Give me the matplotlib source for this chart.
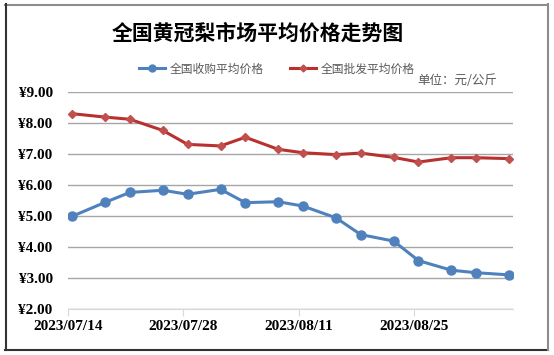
import matplotlib
matplotlib.use("Agg")
import matplotlib.pyplot as plt
import matplotlib.dates as mdates
from matplotlib.lines import Line2D
import datetime as dt

dates = ["2023-07-14", "2023-07-18", "2023-07-21", "2023-07-25", "2023-07-28",
         "2023-08-01", "2023-08-04", "2023-08-08", "2023-08-11", "2023-08-15",
         "2023-08-18", "2023-08-22", "2023-08-25", "2023-08-29", "2023-09-01",
         "2023-09-05"]
purchase = [5.00, 5.45, 5.77, 5.84, 5.71, 5.87, 5.44, 5.47, 5.33, 4.95,
            4.41, 4.20, 3.57, 3.26, 3.18, 3.11]
wholesale = [8.31, 8.20, 8.13, 7.77, 7.32, 7.27, 7.55, 7.16, 7.05, 6.99,
             7.04, 6.90, 6.75, 6.89, 6.89, 6.86]
series_names = ["全国收购平均价格", "全国批发平均价格"]
tick_dates = ["2023-07-14", "2023-07-28", "2023-08-11", "2023-08-25"]
title = "全国黄冠梨市场平均价格走势图"
unit = "单位：元/公斤"

W, H = 554, 355
fig = plt.figure(figsize=(W / 100, H / 100), dpi=100)
fig.patch.set_facecolor("white")

cjk = ["Noto Sans CJK SC", "DejaVu Sans"]
serif = ["Liberation Serif", "DejaVu Serif"]

ax = fig.add_axes([68 / W, 1 - 309.3 / H, (513.3 - 68) / W, (309.3 - 92.3) / H])

x = [dt.datetime.strptime(d, "%Y-%m-%d") + dt.timedelta(hours=12) for d in dates]
blue = "#4F81BD"
red = "#B8312F"
ax.plot(x, purchase, color=blue, lw=2.2, marker="o", ms=6.5, mfc=blue, mec=blue, zorder=3)
ax.plot(x, wholesale, color=red, lw=2.2, marker="D", ms=4.5, mfc="#C0504D", mec="#C0504D", zorder=3)

ax.set_xlim(dt.datetime(2023, 7, 14), dt.datetime(2023, 9, 6))
ax.set_ylim(2, 9)
ax.set_yticks([2, 3, 4, 5, 6, 7, 8, 9])
ax.set_yticklabels(["¥%.2f" % v for v in [2, 3, 4, 5, 6, 7, 8, 9]],
                   fontfamily=serif, fontweight="bold", fontsize=11)
td = [dt.datetime.strptime(d, "%Y-%m-%d") for d in tick_dates]
ax.set_xticks(td)
ax.set_xticklabels([d.replace("-", "/") for d in tick_dates],
                   fontfamily=serif, fontweight="bold", fontsize=11)

ax.grid(axis="y", color="#A6A6A6", lw=1.0)
ax.set_axisbelow(True)
for s in ["left", "right", "top"]:
    ax.spines[s].set_visible(False)
ax.spines["bottom"].set_color("#D9D9D9")
ax.tick_params(axis="y", length=0, pad=11)
ax.tick_params(axis="x", length=5, color="#D9D9D9", direction="out", pad=3)

fig.text(258 / W, 1 - 33 / H, title, fontfamily=cjk, fontweight="bold",
         fontsize=15, ha="center", va="center", color="black")
fig.text(457 / W, 1 - 81 / H, unit, fontfamily=cjk, fontsize=9,
         ha="center", va="center", color="#595959")

handles = [Line2D([], [], color=blue, lw=2.2, marker="o", ms=5),
           Line2D([], [], color=red, lw=2.2, marker="D", ms=3.5, mfc="#C0504D", mec="#C0504D")]
leg = fig.legend(handles, series_names, loc="center", bbox_to_anchor=(277 / W, 1 - 69 / H),
                 ncol=2, frameon=False, prop={"family": cjk, "size": 8.5},
                 handlelength=2.2, handletextpad=0.4, columnspacing=2.2)
for t in leg.get_texts():
    t.set_color("#595959")

# outer border
fig.add_artist(Line2D([5 / W, 548 / W], [1 - 4.5 / H, 1 - 4.5 / H], color="#8C8C8C", lw=1.5))
fig.add_artist(Line2D([5.5 / W, 5.5 / W], [1 - 4 / H, 1 - 350 / H], color="#333333", lw=1.5))
fig.add_artist(Line2D([5 / W, 548 / W], [1 - 350 / H, 1 - 350 / H], color="#333333", lw=1.5))
fig.add_artist(Line2D([548 / W, 548 / W], [1 - 4 / H, 1 - 350 / H], color="#8C8C8C", lw=1.5))

fig.savefig("out.png", dpi=100)
